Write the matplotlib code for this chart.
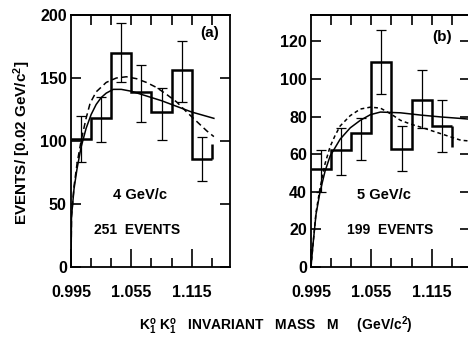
import matplotlib
matplotlib.use("Agg")
import matplotlib.pyplot as plt
import numpy as np

plt.rcParams["font.family"] = ["Liberation Sans", "DejaVu Sans"]
plt.rcParams["font.weight"] = "bold"
plt.rcParams["mathtext.fontset"] = "custom"
plt.rcParams["mathtext.rm"] = "Liberation Sans:bold"
plt.rcParams["mathtext.it"] = "Liberation Sans:bold"
plt.rcParams["mathtext.bf"] = "Liberation Sans:bold"

# histogram bin edges (0.02 GeV bins)
edges = [0.995, 1.015, 1.035, 1.055, 1.075, 1.095, 1.115, 1.135]

# (a) 4 GeV/c, 251 events
counts_a = [102, 118, 170, 139, 123, 156, 86]
err_lo_a = [83, 99, 147, 115, 101, 131, 68]
err_hi_a = [120, 135, 194, 160, 142, 179, 103]
tail_a = 98

m_solid_a = [0.995, 0.9955, 0.998, 1.001, 1.005, 1.010, 1.015, 1.020, 1.025,
             1.030, 1.037, 1.045, 1.055, 1.065, 1.075, 1.085, 1.100, 1.115, 1.137]
solid_a = [0, 40, 62, 78, 95, 110, 121, 129, 134.5,
           138, 141, 141, 139.5, 137, 134.5, 132, 127.5, 123, 118]
m_dash_a = [0.995, 0.9955, 0.998, 1.001, 1.005, 1.010, 1.014, 1.020, 1.030,
            1.040, 1.050, 1.060, 1.070, 1.080, 1.090, 1.100, 1.110, 1.120, 1.130, 1.137]
dash_a = [0, 40, 64, 82, 100, 118, 130, 139, 146.5,
          150, 151, 149.5, 146.5, 142.5, 137, 131, 123, 115.5, 108, 103.5]

# (b) 5 GeV/c, 199 events
counts_b = [52, 62, 71, 109, 63, 89, 75]
err_lo_b = [40, 49, 57, 92, 51, 74, 61]
err_hi_b = [62, 74, 79, 126, 75, 105, 89]
tail_b = 64

m_solid_b = [0.995, 0.997, 1.000, 1.004, 1.009, 1.014, 1.024, 1.034, 1.044,
             1.054, 1.064, 1.084, 1.104, 1.124, 1.144, 1.153]
solid_b = [0, 12, 28, 40, 51, 59, 68, 74, 78,
           81, 82.4, 82, 80.8, 79.8, 79, 78.6]
m_dash_b = [0.995, 0.997, 1.000, 1.004, 1.009, 1.014, 1.019, 1.024, 1.034, 1.044,
            1.054, 1.064, 1.074, 1.084, 1.094, 1.104, 1.124, 1.144, 1.153]
dash_b = [0, 12, 29, 42, 55, 64, 70, 75, 80.5, 84,
          85, 84.5, 81.5, 78, 76, 74.4, 70.9, 67.4, 67]

labeled_x = [0.995, 1.055, 1.115]
labels_x = ["0.995", "1.055", "1.115"]


def panel(ax, counts, lo, hi, tail, ms, solid, md, dash, yticks, ytop, dashstyle):
    c = np.array(counts)
    centers = (np.array(edges[:-1]) + np.array(edges[1:])) / 2
    ax.stairs(counts, edges, baseline=None, color="black", lw=1.8)
    ax.vlines(edges[-1], counts[-1], tail, color="black", lw=1.8)
    ax.errorbar(centers, counts, yerr=[c - np.array(lo), np.array(hi) - c],
                fmt="none", ecolor="black", elinewidth=0.9, capsize=3.3, capthick=0.9)
    ax.plot(ms, solid, color="black", lw=1.1)
    ax.plot(md, dash, color="black", lw=1.1, linestyle=dashstyle)

    ax.set_xlim(0.995, 1.153)
    ax.set_ylim(0, ytop)
    ax.set_xticks(labeled_x)
    ax.set_xticklabels(labels_x)
    ax.set_xticks([e for e in edges if e not in labeled_x], minor=True)
    ax.tick_params(axis="x", which="major", direction="in", length=13, width=1.2,
                   pad=13, labelsize=11.5)
    ax.tick_params(axis="x", which="minor", direction="in", length=6.5, width=1.2)
    top = ax.secondary_xaxis("top")
    top.set_xticks(edges[1:])
    top.tick_params(direction="in", length=7.5, width=1.2, labeltop=False)
    top.spines["top"].set_linewidth(1.3)

    ax.set_yticks(yticks)
    ax.tick_params(axis="y", direction="in", length=7.5, width=1.2, pad=3,
                   labelsize=11.5, right=True)
    for s in ax.spines.values():
        s.set_linewidth(1.3)


fig = plt.figure(figsize=(4.68, 3.47), dpi=100)
ax_a = fig.add_axes([0.1517, 0.2305, 0.3397, 0.7262])
ax_b = fig.add_axes([0.6645, 0.2305, 0.3397, 0.7262])

panel(ax_a, counts_a, err_lo_a, err_hi_a, tail_a, m_solid_a, solid_a,
      m_dash_a, dash_a, [0, 50, 100, 150, 200], 200, (0, (4, 2.5)))
panel(ax_b, counts_b, err_lo_b, err_hi_b, tail_b, m_solid_b, solid_b,
      m_dash_b, dash_b, [0, 20, 40, 60, 80, 100, 120], 134, (0, (2.5, 2)))

ax_a.text(0.874, 0.929, "(a)", transform=ax_a.transAxes, ha="center", va="center", fontsize=11)
ax_a.text(0.434, 0.286, "4 GeV/c", transform=ax_a.transAxes, ha="center", va="center", fontsize=10.5)
ax_a.text(0.415, 0.147, "251  EVENTS", transform=ax_a.transAxes, ha="center", va="center", fontsize=10)
ax_b.text(0.824, 0.913, "(b)", transform=ax_b.transAxes, ha="center", va="center", fontsize=11)
ax_b.text(0.459, 0.286, "5 GeV/c", transform=ax_b.transAxes, ha="center", va="center", fontsize=10.5)
ax_b.text(0.497, 0.147, "199  EVENTS", transform=ax_b.transAxes, ha="center", va="center", fontsize=10)

fig.text(22 / 468, 1 - 143 / 347, r"EVENTS/ [0.02 GeV/c$^2$]", rotation=90,
         ha="center", va="center", fontsize=11)
fig.text(276 / 468, 1 - 326 / 347,
         r"K$^{o}_{1}$ K$^{o}_{1}$   INVARIANT   MASS   M     (GeV/c$^2$)",
         ha="center", va="center", fontsize=10)

fig.savefig("out.png", dpi=100, facecolor="white")
